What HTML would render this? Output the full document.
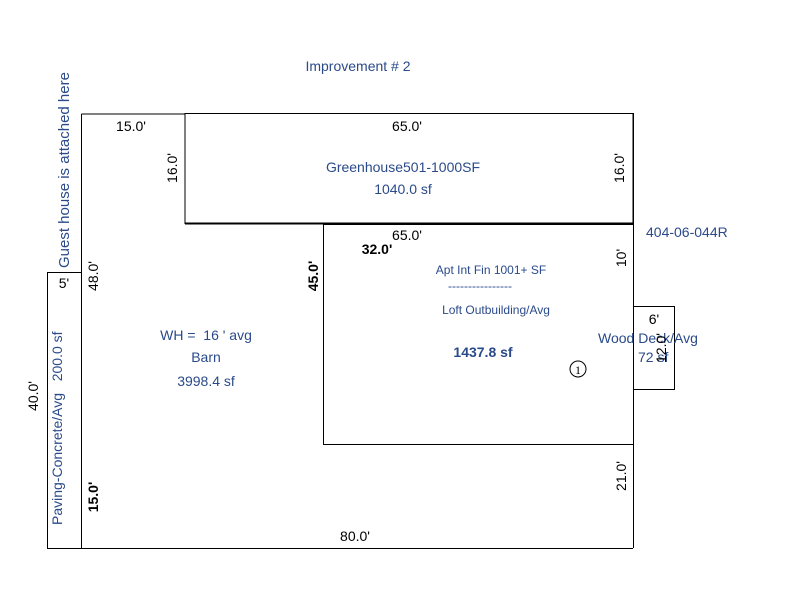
<!DOCTYPE html>
<html><head><style>body{margin:0;background:#fff}svg{display:block}text{white-space:pre}</style></head><body>
<svg width="800" height="600" xmlns="http://www.w3.org/2000/svg" font-family="Liberation Sans, sans-serif" font-size="14">
<rect width="800" height="600" fill="#fff"/>
<g stroke="#000" fill="none" stroke-width="1">
<line x1="81.5" y1="114" x2="185" y2="114"/>
<line x1="81.5" y1="114" x2="81.5" y2="548"/>
<line x1="47.5" y1="548.5" x2="633" y2="548.5"/>
<rect x="47.5" y="272.5" width="34" height="276"/>
<rect x="185" y="113.5" width="448" height="110"/>
<line x1="185" y1="223.5" x2="633" y2="223.5" stroke-width="2"/>
<rect x="323.5" y="224.5" width="310" height="220"/>
<line x1="633.5" y1="113" x2="633.5" y2="548"/>
<rect x="633.5" y="306.5" width="41" height="83"/>
<circle cx="578" cy="369" r="8"/>
</g>
<g fill="#2a4a8a">
<text x="358" y="71" text-anchor="middle">Improvement # 2</text>
<text x="403" y="172" text-anchor="middle">Greenhouse501-1000SF</text>
<text x="403" y="194" text-anchor="middle">1040.0 sf</text>
<text x="646" y="237">404-06-044R</text>
<text x="491" y="274" text-anchor="middle" font-size="12">Apt Int Fin 1001+ SF</text>
<text x="480" y="290" text-anchor="middle" font-size="12">----------------</text>
<text x="496" y="314" text-anchor="middle" font-size="12">Loft Outbuilding/Avg</text>
<text x="483" y="357" text-anchor="middle" font-weight="bold">1437.8 sf</text>
<text x="598" y="343">Wood Deck/Avg</text>
<text x="638" y="362">72 sf</text>
<text x="206" y="340" text-anchor="middle">WH =  16 ' avg</text>
<text x="206" y="362" text-anchor="middle">Barn</text>
<text x="206" y="386" text-anchor="middle">3998.4 sf</text>
<text transform="translate(69,268) rotate(-90)" font-size="15">Guest house is attached here</text>
<text transform="translate(62,525) rotate(-90)">Paving-Concrete/Avg   200.0 sf</text>
</g>
<g fill="#000">
<text x="131" y="131" text-anchor="middle">15.0'</text>
<text x="407" y="131" text-anchor="middle">65.0'</text>
<text x="407" y="240" text-anchor="middle">65.0'</text>
<text x="377" y="254" text-anchor="middle" font-weight="bold">32.0'</text>
<text x="355" y="541" text-anchor="middle">80.0'</text>
<text x="654" y="324" text-anchor="middle">6'</text>
<text x="64" y="288" text-anchor="middle">5'</text>
<text transform="translate(177,168) rotate(-90)" text-anchor="middle">16.0'</text>
<text transform="translate(624,168) rotate(-90)" text-anchor="middle">16.0'</text>
<text transform="translate(626,258) rotate(-90)" text-anchor="middle">10'</text>
<text transform="translate(626,476) rotate(-90)" text-anchor="middle">21.0'</text>
<text transform="translate(318,276) rotate(-90)" text-anchor="middle" font-weight="bold">45.0'</text>
<text transform="translate(98,276) rotate(-90)" text-anchor="middle">48.0'</text>
<text transform="translate(98,497) rotate(-90)" text-anchor="middle" font-weight="bold">15.0'</text>
<text transform="translate(38,396) rotate(-90)" text-anchor="middle">40.0'</text>
<text transform="translate(666,348) rotate(-90)" text-anchor="middle">12.0'</text>
<text x="578" y="374" text-anchor="middle" font-family="Liberation Serif, serif" font-size="12">1</text>
</g>
</svg>
</body></html>
